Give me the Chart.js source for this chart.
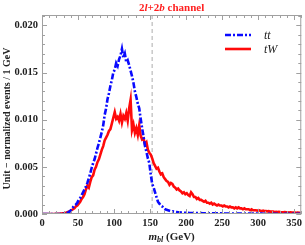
<!DOCTYPE html>
<html><head><meta charset="utf-8">
<script src="https://cdn.jsdelivr.net/npm/chart.js@4/dist/chart.umd.min.js"></script>
<style>html,body{margin:0;padding:0;background:#fff}#wrap{width:305px;height:245px;position:relative}</style>
</head><body><div id="wrap"><canvas id="c" width="305" height="245"></canvas></div>
<script>
// m_bl bins: 2 GeV wide, bin centres from 1 to 359 GeV
const binStart = 1;
const binWidth = 2;
const ttValues = [
0,0,0,0,0,0,0,0,0,0,0,0,0,0.00002,0.00003,
0.00005,0.00008,0.00012,0.0002,0.0003,
0.0005,0.0007,0.0009,0.0010,0.0012,
0.0015,0.0017,0.0020,0.0023,0.0026,
0.0029,0.0033,0.0038,0.0043,0.0049,
0.0054,0.0058,0.0064,0.0070,0.0075,
0.0081,0.0087,0.0094,0.0105,0.0112,
0.0122,0.0128,0.0136,0.0142,0.0150,
0.0153,0.0160,0.0157,0.0164,0.0168,
0.0175,0.0166,0.0170,0.0161,0.0163,
0.0158,0.0152,0.0146,0.0139,0.0130,
0.0124,0.0117,0.0112,0.0101,0.0091,
0.0082,0.0072,0.0066,0.0059,0.0054,
0.0042,0.0032,0.0028,0.0023,0.0018,
0.0013,0.0011,0.0009,0.0008,0.0006,
0.0005,0.00045,0.0004,0.00035,0.0003,
0.00028,0.00025,0.00022,0.0002,0.00018,0.00017,0.00016,0.00015,0.00014,0.00013,
0.00012,0.00012,0.00011,0.00011,0.0001,0.0001,0.0001,0.00009,0.00009,0.00009,
0.00009,0.00008,0.00008,0.00008,0.00008,0.00008,0.00008,0.00008,0.00008,0.00008,
0.00008,0.00007,0.00007,0.00007,0.00007,0.00007,0.00006,0.00006,0.00006,0.00006,
0.00006,0.00006,0.00005,0.00005,0.00005,0.00005,0.00005,0.00005,0.00005,0.00005,
0.00005,0.00004,0.00004,0.00004,0.00004,0.00004,0.00004,0.00004,0.00004,0.00004,
0.00004,0.00004,0.00004,0.00003,0.00003,0.00003,0.00003,0.00003,0.00003,0.00003,
0.00003,0.00003,0.00003,0.00003,0.00003,0.00002,0.00002,0.00002,0.00002,0.00002,
0.00002,0.00002,0.00002,0.00002,0.00002,0.00002,0.00002,0.00002,0.00002,0.00002
];
const tWValues = [
0,0,0,0,0,0,0,0,0,0.00001,0.00002,0.00003,0.00004,0.00006,0.00008,
0.0001,0.00013,0.00018,0.00025,0.0003,
0.0004,0.0005,0.0006,0.0008,0.0009,
0.0011,0.0013,0.0016,0.0018,0.0021,
0.0026,0.0030,0.0028,0.0034,0.0039,
0.0041,0.0047,0.0050,0.0055,0.0058,
0.0063,0.0068,0.0072,0.0078,0.0081,
0.0084,0.0088,0.0090,0.0096,0.0102,
0.0108,0.0101,0.0103,0.0099,0.0106,
0.0097,0.0104,0.0101,0.0107,0.0099,
0.0112,0.0121,0.0089,0.0095,0.0086,
0.0091,0.0084,0.0094,0.0083,0.0079,
0.0080,0.0074,0.0076,0.0068,0.0065,
0.0063,0.0059,0.0054,0.0051,0.0048,
0.0049,0.0045,0.0042,0.0043,0.0039,
0.0037,0.0035,0.0034,0.0031,0.0033,
0.0032,0.0029,0.0028,0.0026,0.0027,
0.0025,0.0024,0.0022,0.0023,0.0021,
0.0022,0.0020,0.0019,0.0023,0.0021,
0.0018,0.0018,0.0016,0.0017,0.0015,
0.0015,0.0014,0.0013,0.0014,0.0012,
0.0012,0.0011,0.0012,0.0010,0.0011,
0.0010,0.0009,0.0010,0.0009,0.0009,
0.0008,0.0009,0.0008,0.0008,0.0007,
0.0008,0.0007,0.0007,0.0006,0.0007,
0.0006,0.0007,0.0006,0.0006,0.0005,
0.0006,0.0005,0.0005,0.0005,0.0004,
0.0005,0.0004,0.0004,0.0004,0.00035,
0.0004,0.00035,0.0003,0.00035,0.0003,
0.0003,0.00028,0.0003,0.00025,0.00027,
0.00025,0.00022,0.00024,0.0002,0.00022,
0.0002,0.00019,0.00018,0.0002,0.00017,
0.00017,0.00016,0.00018,0.00015,0.00016,
0.00015,0.00014,0.00015,0.00013,0.00014
];
const xTickValues = [0,50,100,150,200,250,300,350];
const yTickValues = [0,0.005,0.010,0.015,0.020];
const cutValue = 153;
const seriesNames = ['tt','tW'];

const serif = '"Liberation Serif", "DejaVu Serif", serif';
const toPts = vals => vals.map((v,i)=>({x: binStart + i*binWidth, y: v}));

const framePlugin = {
  id:'frame',
  beforeDatasetsDraw(chart){
    const {ctx, chartArea:a, scales:{x,y}} = chart;
    ctx.save();
    const cx = x.getPixelForValue(cutValue);
    ctx.strokeStyle = '#c8c8c8'; ctx.lineWidth = 1.5; ctx.setLineDash([4,3]);
    ctx.beginPath(); ctx.moveTo(cx,a.top); ctx.lineTo(cx,a.bottom); ctx.stroke();
    ctx.restore();
  },
  afterDraw(chart){
    const {ctx, chartArea:a, scales:{x,y}} = chart;
    ctx.save();
    ctx.strokeStyle = '#a0a0a0'; ctx.lineWidth = 1;
    ctx.strokeRect(a.left+0.5, a.top+0.5, a.right-a.left-1, a.bottom-a.top-1);
    ctx.beginPath();
    for (let v=0; v<=x.max; v+=10){
      const px = Math.round(x.getPixelForValue(v))+0.5;
      const L = (v%50===0)?5:3;
      ctx.moveTo(px,a.bottom); ctx.lineTo(px,a.bottom-L);
      ctx.moveTo(px,a.top); ctx.lineTo(px,a.top+L);
    }
    for (let k=0; k*0.001<=y.max+1e-9; k++){
      const py = Math.round(y.getPixelForValue(k*0.001))+0.5;
      const L = (k%5===0)?5:3;
      ctx.moveTo(a.left,py); ctx.lineTo(a.left+L,py);
      ctx.moveTo(a.right,py); ctx.lineTo(a.right-L,py);
    }
    ctx.stroke();
    // title
    ctx.fillStyle = '#ff2020'; ctx.textBaseline='alphabetic';
    const parts = [['2','bold'],['l','italic bold'],['+2','bold'],['b','italic bold'],[' channel','bold']];
    let w=0; parts.forEach(p=>{ctx.font=p[1]+' 11px '+serif; w+=ctx.measureText(p[0]).width;});
    let tx = (a.left+a.right)/2 - w/2;
    parts.forEach(p=>{ctx.font=p[1]+' 11px '+serif; ctx.fillText(p[0],tx,11); tx+=ctx.measureText(p[0]).width;});
    // x title
    ctx.fillStyle = '#222';
    ctx.font = 'italic bold 11px '+serif;
    const m='m', sub='bl', rest=' (GeV)';
    const wm=ctx.measureText(m).width;
    ctx.font='italic bold 8px '+serif; const ws=ctx.measureText(sub).width;
    ctx.font='bold 11px '+serif; const wr=ctx.measureText(rest).width;
    let xx=(a.left+a.right)/2-(wm+ws+wr)/2;
    ctx.font='italic bold 11px '+serif; ctx.fillText(m,xx,240); xx+=wm;
    ctx.font='italic bold 8px '+serif; ctx.fillText(sub,xx,242); xx+=ws;
    ctx.font='bold 11px '+serif; ctx.fillText(rest,xx,240);
    // y title
    ctx.save();
    ctx.translate(10,(a.top+a.bottom)/2+4); ctx.rotate(-Math.PI/2);
    ctx.font='bold 10px '+serif; ctx.textAlign='center';
    ctx.fillText('Unit \u2212 normalized events / 1 GeV',0,0);
    ctx.restore();
    // legend
    const ds = chart.data.datasets;
    const ly=[35,49];
    ds.forEach((d,i)=>{
      ctx.strokeStyle=d.borderColor; ctx.lineWidth=d.borderWidth;
      ctx.setLineDash(d.borderDash||[]);
      ctx.beginPath(); ctx.moveTo(225,ly[i]); ctx.lineTo(251,ly[i]); ctx.stroke();
      ctx.setLineDash([]);
      ctx.fillStyle='#222'; ctx.font='italic 12px '+serif; ctx.textBaseline='middle';
      ctx.fillText(d.label,264,ly[i]+1);
    });
    ctx.restore();
  }
};

new Chart(document.getElementById('c'),{
  type:'line',
  data:{datasets:[
    {label:seriesNames[0], data:toPts(ttValues), borderColor:'#0a0aff', borderWidth:2.6, borderDash:[6,2,2,2], pointRadius:0, fill:false, tension:0},
    {label:seriesNames[1], data:toPts(tWValues), borderColor:'#ff0a0a', borderWidth:2.6, pointRadius:0, fill:false, tension:0}
  ]},
  plugins:[framePlugin],
  options:{
    responsive:false, animation:false, devicePixelRatio:1,
    layout:{padding:{top:15,right:2,left:0,bottom:0}},
    plugins:{legend:{display:false}, tooltip:{enabled:false}, title:{display:false}},
    scales:{
      x:{type:'linear', min:0, max:360, grid:{display:false, drawTicks:false}, border:{display:false},
         afterBuildTicks:s=>{s.ticks=xTickValues.map(v=>({value:v}));},
         afterFit:s=>{s.height=31;},
         ticks:{padding:3, maxRotation:0, autoSkip:false, color:'#222', font:{family:serif, weight:'bold', size:10.5}}},
      y:{type:'linear', min:0, max:0.0211, grid:{display:false, drawTicks:false}, border:{display:false},
         afterBuildTicks:s=>{s.ticks=yTickValues.map(v=>({value:v}));},
         afterFit:s=>{s.width=42;},
         ticks:{padding:4, color:'#222', callback:v=>v.toFixed(3), font:{family:serif, weight:'bold', size:10.5}}}
    }
  }
});
</script></body></html>
